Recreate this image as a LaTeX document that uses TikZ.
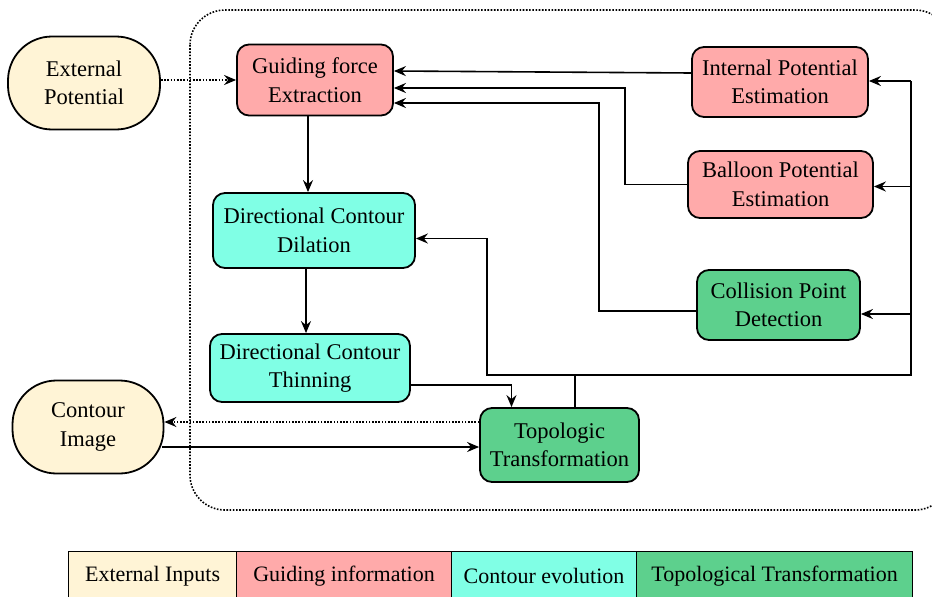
\documentclass[tikz,border=0pt]{standalone}
\usepackage{fontspec}
\setmainfont{Liberation Serif}
\usetikzlibrary{arrows.meta,calc}
\definecolor{extcol}{HTML}{FFF4D6}
\definecolor{guidecol}{HTML}{FFAAAA}
\definecolor{evolcol}{HTML}{80FFE5}
\definecolor{topocol}{HTML}{5DD08D}
\tikzset{
  box/.style={draw=black, line width=1.8pt, rounded corners=12pt, align=center,
    inner sep=0pt, font=\fontsize{22.5}{28.5}\selectfont},
  inputbox/.style={box, fill=extcol, rounded corners=44pt},
  guidebox/.style={box, fill=guidecol},
  evolbox/.style={box, fill=evolcol},
  topobox/.style={box, fill=topocol},
  legbox/.style={draw=black, line width=1.2pt, anchor=north west, inner sep=0pt,
    minimum height=49pt, font=\fontsize{22}{26}\selectfont},
  link/.style={line width=1.6pt},
  arr/.style={link, -{Stealth[length=12pt,width=10pt,inset=4pt]}},
  dotarr/.style={line width=1.6pt, dash pattern=on 1.6pt off 1.6pt,
    -{Stealth[length=12pt,width=10pt,inset=4pt]}},
  frame/.style={line width=1.6pt, dash pattern=on 1.6pt off 1.6pt, rounded corners=35pt}
}
\begin{document}
\begin{tikzpicture}[x=1pt,y=-1pt]
\useasboundingbox (0,0) rectangle (932,597);

% dotted frame around the processing stages
\draw[frame] (190,10) rectangle (950,510);

% inputs
\node[inputbox, minimum width=152pt, minimum height=93pt] (ep) at (84,83) {External\\Potential};
\node[inputbox, minimum width=151pt, minimum height=93pt] (ci) at (88,427) {Contour\\Image};

% guiding information
\node[guidebox, minimum width=156pt, minimum height=71pt] (gfe) at (315,80) {Guiding force\\Extraction};
\node[guidebox, minimum width=176pt, minimum height=70pt] (ipe) at (780,82) {Internal Potential\\Estimation};
\node[guidebox, minimum width=185pt, minimum height=67pt] (bpe) at (780.5,184.5) {Balloon Potential\\Estimation};

% contour evolution
\node[evolbox, minimum width=202pt, minimum height=75pt] (dil) at (314,230.5) {Directional Contour\\Dilation};
\node[evolbox, minimum width=200pt, minimum height=68pt] (thin) at (310,368) {Directional Contour\\Thinning};

% topological transformation
\node[topobox, minimum width=163pt, minimum height=70pt] (cpd) at (778.5,305) {Collision Point\\Detection};
\node[topobox, minimum width=159pt, minimum height=74pt] (topo) at (559.5,445) {Topologic\\Transformation};

% helper points of the routing
\coordinate (jn) at (575,375);
\coordinate (lk) at (487,375);
\coordinate (rbot) at (911,375);
\coordinate (rtop) at (911,81);
\coordinate (col1) at (308,0);
\coordinate (col2) at (306,0);
\coordinate (cpdin) at ($(cpd.east)+(0,9)$);
\coordinate (cpdout) at ($(cpd.west)+(0,6)$);
\coordinate (bpein) at ($(bpe.east)+(0,2)$);
\coordinate (dilin) at ($(dil.east)+(0,8)$);
\coordinate (thout) at ($(thin.east)+(0,17)$);
\coordinate (tpin) at ($(topo.north)+(-48,0)$);
\coordinate (tpout) at ($(topo.west)+(0,-23)$);
\coordinate (ciout) at ($(ci.east)+(-2,20)$);
\coordinate (ipeout) at ($(ipe.west)+(0,-9)$);
\coordinate (gfein1) at ($(gfe.east)+(0,-9)$);
\coordinate (gfein2) at ($(gfe.east)+(0,8)$);
\coordinate (gfein3) at ($(gfe.east)+(0,23)$);

% external potential into the guiding force
\draw[dotarr] (ep.east |- gfe.west) -- (gfe.west);

% potentials back into the guiding force
\draw[arr] (ipeout) -- (gfein1);
\draw[arr] (bpe.west) -- ++(-62,0) |- (gfein2);
\draw[arr] (cpdout) -- ++(-97,0) |- (gfein3);

% main evolution chain
\draw[arr] (col1 |- gfe.south) -- (col1 |- dil.north);
\draw[arr] (col2 |- dil.south) -- (col2 |- thin.north);
\draw[arr] (thout) -| (tpin);

% feedback from the topologic transformation
\draw[link] (jn |- topo.north) -- (jn) -- (rbot) -- (rtop);
\draw[arr] (rtop) -- (rtop -| ipe.east);
\draw[arr] (rtop |- bpein) -- (bpein);
\draw[arr] (rtop |- cpdin) -- (cpdin);
\draw[arr] (jn) -- (lk) |- (dilin);

% contour image exchange
\draw[dotarr] (tpout) -- (tpout -| ci.east);
\draw[arr] (ciout) -- (ciout -| topo.west);

% legend
\node[legbox, fill=extcol, minimum width=168pt] (l1) at (68,551) {External Inputs};
\node[legbox, fill=guidecol, minimum width=215pt] (l2) at (236,551) {Guiding information};
\node[legbox, fill=evolcol, minimum width=185pt] (l3) at (451,551) {Contour evolution};
\node[legbox, fill=topocol, minimum width=276pt] (l4) at (636,551) {Topological Transformation};
\end{tikzpicture}
\end{document}
